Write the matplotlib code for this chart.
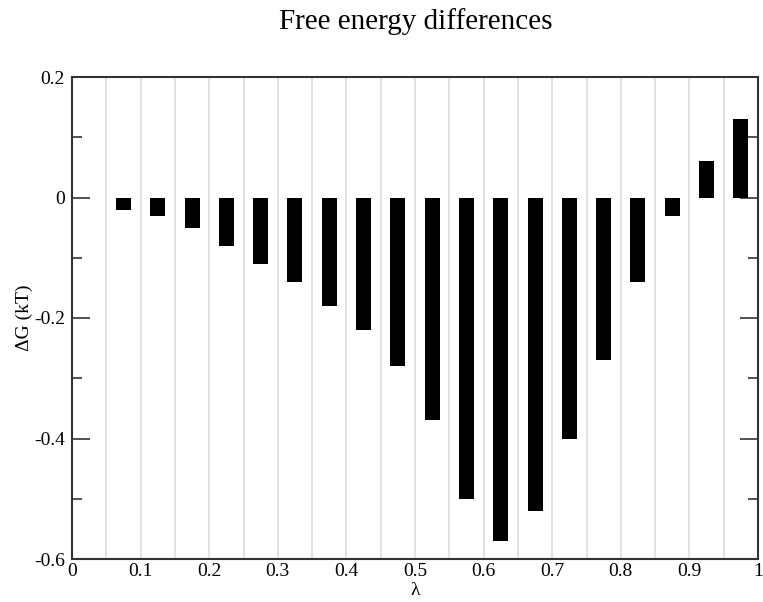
import matplotlib
matplotlib.use("Agg")
import matplotlib.pyplot as plt
from matplotlib.ticker import MultipleLocator, FuncFormatter

lam = [0.075, 0.125, 0.175, 0.225, 0.275, 0.325, 0.375, 0.425, 0.475, 0.525,
       0.575, 0.625, 0.675, 0.725, 0.775, 0.825, 0.875, 0.925, 0.975]
dG = [-0.02, -0.03, -0.05, -0.08, -0.11, -0.14, -0.18, -0.22, -0.28, -0.37,
      -0.50, -0.57, -0.52, -0.40, -0.27, -0.14, -0.03, 0.06, 0.13]
grid_x = [0.05 * i for i in range(1, 20)]
x_ticks = [0, 0.1, 0.2, 0.3, 0.4, 0.5, 0.6, 0.7, 0.8, 0.9, 1]
x_tick_labels = ["0", "0.1", "0.2", "0.3", "0.4", "0.5", "0.6", "0.7", "0.8", "0.9", "1"]

plt.rcParams['font.family'] = ['Liberation Serif', 'DejaVu Serif']

fig = plt.figure(figsize=(7.63, 6.02), dpi=100)
ax = fig.add_axes([72/763, 43/602, 686/763, 482/602])

for gx in grid_x:
    ax.axvline(gx, color='#dcdcdc', lw=1.2, zorder=0)

ax.bar(lam, dG, width=0.022, color='black', zorder=2)

ax.set_xlim(0, 1)
ax.set_ylim(-0.6, 0.2)
ax.set_xticks(x_ticks)
ax.set_xticklabels(x_tick_labels)
ax.yaxis.set_major_locator(MultipleLocator(0.2))
ax.yaxis.set_minor_locator(MultipleLocator(0.1))

def yfmt(v, pos):
    if abs(v) < 1e-9:
        return "0"
    return ("%.1f" % v).replace("\u2212", "-")
ax.yaxis.set_major_formatter(FuncFormatter(yfmt))

ax.tick_params(axis='y', which='major', direction='in', length=13, width=1.2,
               right=True, labelsize=14, color='#333333', pad=5)
ax.tick_params(axis='y', which='minor', direction='in', length=7, width=1.2,
               right=True, color='#333333')
ax.tick_params(axis='x', which='both', length=0, labelsize=14, pad=3)

for s in ax.spines.values():
    s.set_color('#333333')
    s.set_linewidth(1.5)

fig.text(416/763, 1 - 22/602, "Free energy differences", fontsize=21,
         ha='center', va='center')
ax.set_xlabel("λ", fontsize=14, labelpad=1)
ax.set_ylabel("ΔG (kT)", fontsize=14, labelpad=1)

fig.savefig("out.png", dpi=100)
